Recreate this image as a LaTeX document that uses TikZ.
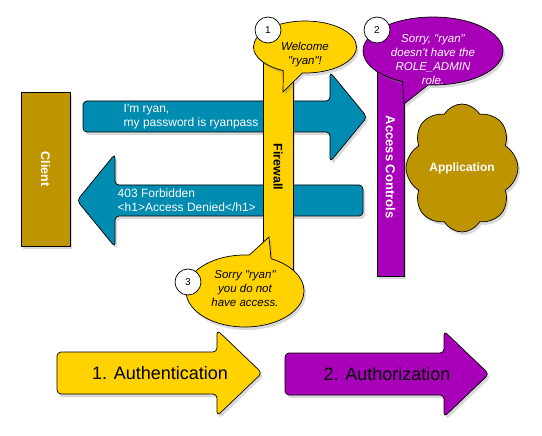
\documentclass[tikz,border=0pt]{standalone}
\usepackage{fontspec}
\setmainfont{Liberation Sans}[Ligatures=TeXOff]
\usetikzlibrary{shapes.symbols,shapes.callouts,shadows}
\definecolor{fwyellow}{RGB}{255,210,0}
\definecolor{acpurple}{RGB}{168,0,184}
\definecolor{reqblue}{RGB}{0,139,176}
\definecolor{appgold}{RGB}{190,148,0}

\begin{document}
\begin{tikzpicture}[x=1pt,y=-1pt,line width=0.7pt,
    shadowed/.style={drop shadow={opacity=0.3,shadow xshift=2pt,shadow yshift=-3pt}},
    bar/.style={draw,shadowed,rotate=-90,inner sep=0pt,font=\fontsize{12.5}{14}\selectfont\bfseries},
    bubble/.style={ellipse callout,draw,shadowed,callout pointer arc=22,inner sep=0pt},
    bubbletext/.style={align=center,font=\fontsize{11.5}{14}\selectfont\itshape},
    numcircle/.style={circle,draw,fill=white,minimum size=26pt,inner sep=0pt,font=\fontsize{10}{12}\selectfont},
    msg/.style={anchor=west,align=left,text=white,font=\fontsize{12}{14}\selectfont},
    step label/.style={font=\fontsize{18}{22}\selectfont}]
    \useasboundingbox (0,0) rectangle (542,436);
    % The client
    \node[bar,fill=appgold,text=white,minimum width=154pt,minimum height=49pt] (client) at (45.5,169) {Client};
    % The request and the answer
    \draw[rounded corners=4pt,draw,fill=reqblue,shadowed]
      (83,101) -- (330,101) -- (330,72) -- (367,117) -- (330,162) -- (330,132) -- (83,132) -- cycle;
    \draw[rounded corners=4pt,draw,fill=reqblue,shadowed]
      (363,185) -- (115,185) -- (115,154) -- (77,200.5) -- (115,247) -- (115,216) -- (363,216) -- cycle;
    \node[msg] (request) at (120,117) {I'm ryan,\\my password is ryanpass};
    \node[msg] (answer) at (114,200.5) {403 Forbidden\\<h1>Access Denied</h1>};
    % The two bars
    \node[bar,fill=fwyellow,minimum width=218pt,minimum height=30pt] (firewall) at (278,167) {Firewall};
    \node[bar,fill=acpurple,minimum width=206pt,minimum height=27pt] (access) at (390.5,173) {};
    \node[rotate=-90,text=white,font=\fontsize{13}{15}\selectfont\bfseries] (acclabel) at (390.5,167) {Access Controls};
    % The application
    \node[cloud,cloud puffs=8,cloud puff arc=120,aspect=0.9,draw,shadowed,fill=appgold,
      minimum width=112pt,minimum height=128pt,inner sep=0pt,text=white,
      font=\fontsize{12}{14}\selectfont\bfseries] (app) at (462,168) {Application};
    % The speech bubbles
    \node[bubble,fill=fwyellow,minimum width=103pt,minimum height=52pt,
      callout absolute pointer={(283,92)}] (welcome) at (305,47) {};
    \node[bubbletext] (welcometext) at (305,55) {Welcome\\"ryan"!};
    \node[numcircle] (n1) at (268,30) {1};
    \node[bubble,fill=acpurple,minimum width=140pt,minimum height=68pt,
      callout absolute pointer={(404,104)}] (denied) at (433,51) {};
    \node[bubbletext,text=white] (deniedtext) at (433,60) {Sorry, "ryan"\\doesn't have the\\ROLE\_ADMIN\\role.};
    \node[numcircle] (n2) at (377,30) {2};
    \node[bubble,fill=fwyellow,minimum width=118pt,minimum height=72pt,
      callout absolute pointer={(269,237)}] (noaccess) at (245,291) {};
    \node[bubbletext] (noaccesstext) at (245,289) {Sorry "ryan"\\you do not\\have access.};
    \node[numcircle] (n3) at (188,282) {3};
    % The two steps
    \draw[rounded corners=4pt,draw,fill=fwyellow,shadowed]
      (57,352) -- (217,352) -- (217,330) -- (262,373) -- (217,416) -- (217,394) -- (57,394) -- cycle;
    \draw[rounded corners=4pt,draw,fill=acpurple,shadowed]
      (285,353) -- (444,353) -- (444,331) -- (489,374) -- (444,417) -- (444,395) -- (285,395) -- cycle;
    \node[step label] (authn) at (160,373) {1. Authentication};
    \node[step label] (authz) at (387,374) {2. Authorization};
\end{tikzpicture}
\end{document}
